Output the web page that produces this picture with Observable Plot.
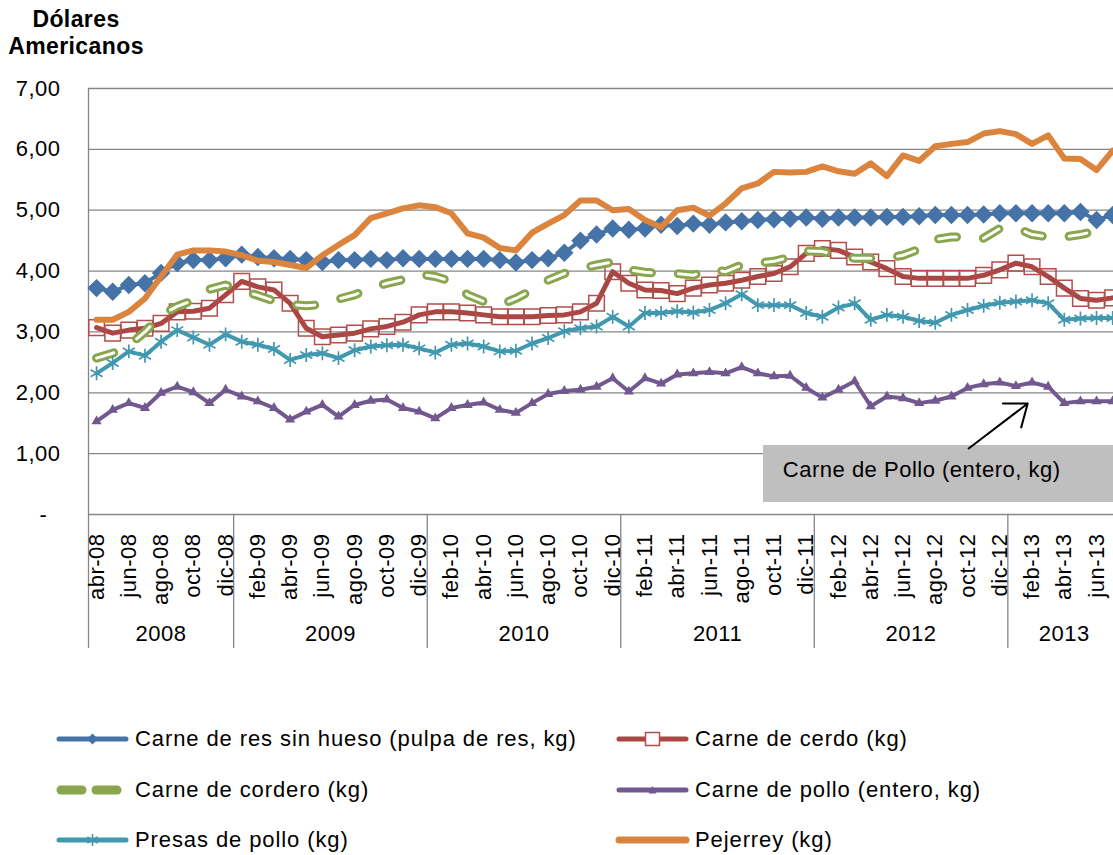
<!DOCTYPE html>
<html>
<head>
<meta charset="utf-8">
<script src="https://cdn.jsdelivr.net/npm/d3@7"></script>
<script src="https://cdn.jsdelivr.net/npm/@observablehq/plot@0.6"></script>
<style>
html, body { margin: 0; padding: 0; background: #fff; overflow: hidden; width: 1113px; height: 855px; }
body { position: relative; font-family: "Liberation Sans", Arial, sans-serif; color: #000; }
#title { position: absolute; left: 0; top: 6px; width: 152px; text-align: center; font-weight: bold; font-size: 23px; line-height: 27px; letter-spacing: 0.4px; }
#chart { position: absolute; left: 0; top: 0; }
#legend .item { position: absolute; height: 30px; display: flex; align-items: center; font-size: 22px; letter-spacing: 0.9px; white-space: nowrap; }
#legend svg { display: block; margin-right: 5px; }
</style>
</head>
<body>
<div id="title">Dólares<br>Americanos</div>
<div id="chart"></div>
<div id="legend"></div>
<script>
// ---------- DATA ----------
const months = [
  "abr-08","may-08","jun-08","jul-08","ago-08","sep-08","oct-08","nov-08","dic-08",
  "ene-09","feb-09","mar-09","abr-09","may-09","jun-09","jul-09","ago-09","sep-09","oct-09","nov-09","dic-09",
  "ene-10","feb-10","mar-10","abr-10","may-10","jun-10","jul-10","ago-10","sep-10","oct-10","nov-10","dic-10",
  "ene-11","feb-11","mar-11","abr-11","may-11","jun-11","jul-11","ago-11","sep-11","oct-11","nov-11","dic-11",
  "ene-12","feb-12","mar-12","abr-12","may-12","jun-12","jul-12","ago-12","sep-12","oct-12","nov-12","dic-12",
  "ene-13","feb-13","mar-13","abr-13","may-13","jun-13","jul-13"
];
const tickLabels = [
  "abr-08","jun-08","ago-08","oct-08","dic-08",
  "feb-09","abr-09","jun-09","ago-09","oct-09","dic-09",
  "feb-10","abr-10","jun-10","ago-10","oct-10","dic-10",
  "feb-11","abr-11","jun-11","ago-11","oct-11","dic-11",
  "feb-12","abr-12","jun-12","ago-12","oct-12","dic-12",
  "feb-13","abr-13","jun-13"
];
const years = ["2008","2009","2010","2011","2012","2013"];
const yTicks = [0,1,2,3,4,5,6,7];
const yTickLabels = ["-","1,00","2,00","3,00","4,00","5,00","6,00","7,00"];

const res = [3.72,3.66,3.77,3.80,3.97,4.13,4.18,4.18,4.21,
  4.27,4.23,4.21,4.20,4.18,4.15,4.18,4.18,4.20,4.18,4.21,4.20,
  4.20,4.20,4.20,4.20,4.18,4.14,4.18,4.21,4.30,4.50,4.60,4.70,
  4.68,4.70,4.76,4.74,4.78,4.76,4.80,4.82,4.84,4.85,4.86,4.88,
  4.86,4.88,4.88,4.88,4.89,4.89,4.90,4.92,4.92,4.92,4.93,4.95,
  4.95,4.95,4.95,4.95,4.97,4.84,4.92];
const cerdo = [3.07,2.98,3.03,3.06,3.14,3.33,3.34,3.39,3.61,
  3.83,3.74,3.69,3.47,3.06,2.92,2.95,2.98,3.05,3.09,3.16,3.28,
  3.33,3.33,3.31,3.28,3.25,3.25,3.25,3.27,3.28,3.33,3.47,3.99,
  3.80,3.69,3.68,3.63,3.72,3.77,3.80,3.85,3.91,3.96,4.07,4.29,
  4.37,4.34,4.23,4.15,4.04,3.91,3.88,3.88,3.88,3.88,3.93,4.02,
  4.13,4.07,3.91,3.72,3.55,3.52,3.56];
const cordero = [2.57,2.65,2.78,3.00,3.28,3.42,3.52,3.70,3.77,
  3.68,3.60,3.51,3.45,3.43,3.45,3.54,3.61,3.72,3.80,3.86,3.95,
  3.91,3.83,3.61,3.50,3.44,3.55,3.69,3.85,3.96,4.04,4.10,4.15,
  4.02,3.98,3.96,3.96,3.93,4.04,3.99,4.10,4.13,4.16,4.23,4.33,
  4.32,4.26,4.21,4.21,4.21,4.26,4.36,4.52,4.56,4.56,4.54,4.70,
  4.71,4.60,4.56,4.56,4.60,4.66,4.68];
const polloEntero = [1.53,1.72,1.83,1.75,2.00,2.10,2.01,1.83,2.05,
  1.94,1.86,1.75,1.56,1.69,1.80,1.61,1.80,1.87,1.89,1.75,1.69,
  1.58,1.75,1.80,1.84,1.72,1.67,1.83,1.98,2.03,2.05,2.10,2.24,
  2.02,2.24,2.15,2.30,2.32,2.34,2.32,2.42,2.32,2.27,2.28,2.08,
  1.92,2.05,2.19,1.78,1.94,1.91,1.83,1.87,1.94,2.08,2.14,2.17,
  2.11,2.17,2.10,1.83,1.86,1.86,1.86];
const presas = [2.32,2.49,2.68,2.61,2.84,3.03,2.91,2.79,2.96,
  2.84,2.79,2.72,2.54,2.62,2.65,2.57,2.70,2.76,2.78,2.79,2.73,
  2.66,2.79,2.81,2.76,2.68,2.69,2.81,2.90,3.01,3.06,3.09,3.25,
  3.09,3.31,3.31,3.34,3.32,3.36,3.47,3.62,3.44,3.44,3.44,3.31,
  3.25,3.40,3.47,3.20,3.28,3.25,3.18,3.15,3.28,3.36,3.43,3.48,
  3.50,3.52,3.47,3.20,3.22,3.23,3.23];
const pejerrey = [3.20,3.20,3.33,3.55,3.91,4.27,4.34,4.34,4.32,
  4.26,4.17,4.15,4.10,4.05,4.26,4.43,4.59,4.87,4.95,5.03,5.08,
  5.05,4.95,4.62,4.55,4.38,4.34,4.63,4.78,4.92,5.16,5.16,5.00,
  5.02,4.84,4.72,5.00,5.04,4.91,5.11,5.36,5.44,5.63,5.62,5.63,
  5.72,5.64,5.60,5.77,5.56,5.90,5.81,6.05,6.09,6.12,6.26,6.30,
  6.25,6.09,6.23,5.85,5.84,5.66,5.98];

const seriesNames = [
  "Carne de res sin hueso (pulpa de res, kg)",
  "Carne de cerdo (kg)",
  "Carne de cordero (kg)",
  "Carne de pollo (entero, kg)",
  "Presas de pollo (kg)",
  "Pejerrey (kg)"
];
const seriesValues = [res, cerdo, cordero, polloEntero, presas, pejerrey];
const annotationText = "Carne de Pollo (entero, kg)";

// ---------- STYLES ----------
const styles = [
  {color: "#4572A7", width: 4, symbol: "diamond2", r: 8.3, fill: true},
  {color: "#AA4643", width: 5, symbol: "square", r: 8.8, fill: false, markStroke: "#B24E4B"},
  {color: "#89A54E", width: 9, dashed: true},
  {color: "#71588F", width: 4, symbol: "triangle", r: 3.8, fill: true},
  {color: "#4198AF", width: 4, symbol: "asterisk", r: 6.6, fill: false, markStroke: "#4198AF"},
  {color: "#DB843D", width: 6}
];

// ---------- DERIVED ----------
const yearOf = m => "20" + m.slice(-2);
const yearGroups = years.map(y => {
  const idx = months.map((m, i) => [m, i]).filter(([m]) => yearOf(m) === y).map(([, i]) => i);
  return {year: y, first: idx[0], last: idx[idx.length - 1]};
});
const dividers = yearGroups.map(g => g.first - 0.5);
const yearCenters = yearGroups.map(g => (g.first + g.last) / 2);
const tickIdx = tickLabels.map(t => months.indexOf(t));

const gray = "#868686";
const marks = [];
marks.push(Plot.gridY(yTicks.slice(1), {stroke: gray, strokeOpacity: 1, strokeWidth: 1.3}));
// annotation box (drawn under the series)
marks.push(Plot.rect([{x1: 41.35, x2: 63.2, y1: 0.197, y2: 1.134}], {x1: "x1", x2: "x2", y1: "y1", y2: "y2", fill: "#bfbfbf"}));
marks.push(Plot.ruleY([0], {stroke: gray, strokeWidth: 1.3}));
marks.push(Plot.ruleX([-0.5], {stroke: gray, strokeWidth: 1.3}));
marks.push(Plot.axisX(dividers, {tickSize: 134, tickFormat: () => "", stroke: gray, strokeWidth: 1.3, strokeOpacity: 1}));
marks.push(Plot.axisX(tickIdx, {tickSize: 0, tickPadding: 19, tickRotate: -90, tickFormat: i => months[i], fontSize: 22, fill: "#000"}));
marks.push(Plot.axisX(yearCenters, {tickSize: 0, tickPadding: 111, tickFormat: c => yearGroups[yearCenters.indexOf(c)].year, fontSize: 22, fill: "#000"}));
marks.push(Plot.axisY(yTicks, {tickSize: 0, tickPadding: 28, tickFormat: v => v === 0 ? yTickLabels[0] + "  " : yTickLabels[yTicks.indexOf(v)], fontSize: 22, fill: "#000"}));

seriesValues.forEach((vals, k) => {
  const st = styles[k];
  const d = vals.map((v, i) => ({i, v}));
  if (st.dashed) {
    marks.push(Plot.line(d, {x: "i", y: "v", stroke: st.color, strokeWidth: st.width, strokeDasharray: "18,27", strokeLinecap: "round", strokeLinejoin: "round"}));
    marks.push(Plot.line(d, {x: "i", y: "v", stroke: "#fbfdf8", strokeWidth: 3, strokeDasharray: "18,27", strokeLinecap: "round", strokeLinejoin: "round"}));
  } else {
    marks.push(Plot.line(d, {x: "i", y: "v", stroke: st.color, strokeWidth: st.width, strokeLinecap: "round", strokeLinejoin: "round"}));
  }
  if (st.symbol) {
    marks.push(Plot.dot(d, st.fill
      ? {x: "i", y: "v", symbol: st.symbol, r: st.r, fill: st.color, stroke: "none"}
      : {x: "i", y: "v", symbol: st.symbol, r: st.r, fill: "none", stroke: st.markStroke, strokeWidth: st.symbol === "asterisk" ? 1.7 : 1.5}));
  }
});

// annotation arrow + text
marks.push(Plot.text([annotationText], {x: () => 42.55, y: () => 0.73, text: d => d, textAnchor: "start", lineAnchor: "middle", fontSize: 22, fill: "#000"}));
marks.push(Plot.arrow([{x1: 54.07, y1: 1.085, x2: 57.73, y2: 1.824}], {x1: "x1", y1: "y1", x2: "x2", y2: "y2", stroke: "#000", strokeWidth: 2, headLength: 20, headAngle: 75}));

const plot = Plot.plot({
  width: 1113,
  height: 660,
  marginTop: 88,
  marginBottom: 146,
  marginLeft: 88,
  marginRight: 0,
  x: {type: "linear", domain: [-0.5, 63.05]},
  y: {type: "linear", domain: [0, 7]},
  style: {fontFamily: "'Liberation Sans', Arial, sans-serif", fontSize: "22px", letterSpacing: "0.5px", color: "#000", background: "transparent", overflow: "visible"},
  marks
});
document.getElementById("chart").appendChild(plot);

// ---------- LEGEND ----------
const legend = document.getElementById("legend");
const ns = "http://www.w3.org/2000/svg";
const rowsY = [739, 790, 840];
const colsX = [55, 615];
seriesNames.forEach((name, k) => {
  const st = styles[k];
  const item = document.createElement("div");
  item.className = "item";
  item.style.left = colsX[k % 2] + "px";
  item.style.top = (rowsY[Math.floor(k / 2)] - 15) + "px";
  const svg = document.createElementNS(ns, "svg");
  svg.setAttribute("width", 75); svg.setAttribute("height", 30);
  const mk = (tag, attrs) => { const e = document.createElementNS(ns, tag); for (const a in attrs) e.setAttribute(a, attrs[a]); svg.appendChild(e); return e; };
  if (st.dashed) {
    mk("line", {x1: 6, y1: 15, x2: 27, y2: 15, stroke: st.color, "stroke-width": 9, "stroke-linecap": "round"});
    mk("line", {x1: 41, y1: 15, x2: 62, y2: 15, stroke: st.color, "stroke-width": 9, "stroke-linecap": "round"});
  } else {
    mk("line", {x1: 4, y1: 15, x2: 71, y2: 15, stroke: st.color, "stroke-width": k === 5 ? 7 : 5, "stroke-linecap": "round"});
  }
  const cx = 37.5, cy = 15;
  if (st.symbol === "diamond2") mk("path", {d: `M${cx},${cy-5.5}L${cx+5.5},${cy}L${cx},${cy+5.5}L${cx-5.5},${cy}Z`, fill: st.color});
  if (st.symbol === "square") mk("rect", {x: cx-7, y: cy-6.5, width: 14, height: 13, fill: "#fff", stroke: st.markStroke, "stroke-width": 1.5});
  if (st.symbol === "triangle") mk("path", {d: `M${cx},${cy-4}L${cx+4},${cy+3.5}L${cx-4},${cy+3.5}Z`, fill: st.color});
  if (st.symbol === "asterisk") {
    mk("path", {d: `M${cx},${cy-6}V${cy+6}M${cx-5.2},${cy-3}L${cx+5.2},${cy+3}M${cx-5.2},${cy+3}L${cx+5.2},${cy-3}`, stroke: st.color, "stroke-width": 1.6, fill: "none"});
  }
  item.appendChild(svg);
  const span = document.createElement("span");
  span.textContent = name;
  item.appendChild(span);
  legend.appendChild(item);
});
</script>
</body>
</html>
